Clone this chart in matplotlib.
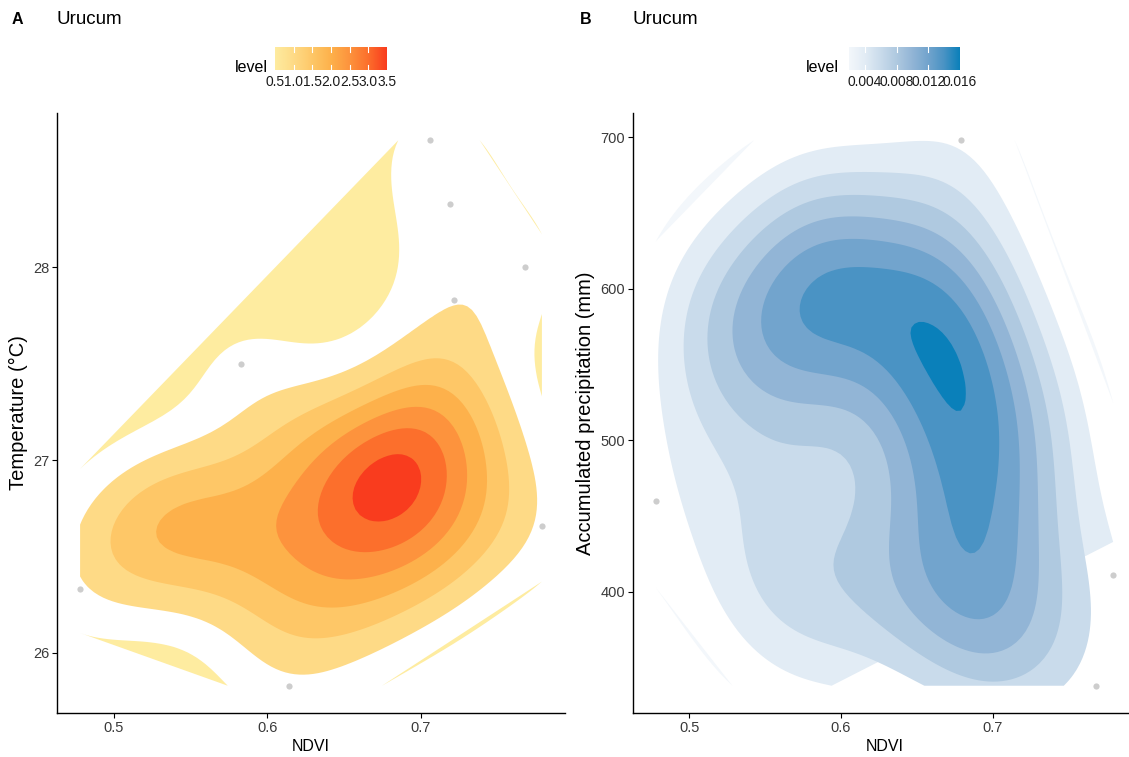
import numpy as np
import matplotlib
matplotlib.use("Agg")
import matplotlib.pyplot as plt
from matplotlib.colors import LinearSegmentedColormap
import contourpy

plt.rcParams['font.family'] = ['Liberation Sans', 'DejaVu Sans']

# Panel A: NDVI vs temperature (first 8 points, the rest estimated
# from the filled density contours that hide them)
ndvi_a = [0.706, 0.719, 0.768, 0.722, 0.583, 0.779, 0.478, 0.614,
          0.495, 0.520, 0.535, 0.545, 0.555, 0.575,
          0.600, 0.610, 0.630, 0.640, 0.650, 0.660, 0.660,
          0.676, 0.683, 0.695, 0.686, 0.678,
          0.705, 0.720, 0.710, 0.745, 0.730, 0.715,
          0.660, 0.600, 0.700, 0.620]
temp_a = [28.66, 28.33, 28.00, 27.83, 27.50, 26.66, 26.33, 25.83,
          26.58, 26.72, 26.62, 26.50, 26.83, 26.67,
          26.50, 26.83, 26.67, 26.33, 27.00, 26.50, 26.72,
          26.86, 26.95, 27.05, 26.82, 26.98,
          27.20, 27.25, 27.45, 27.00, 26.70, 26.55,
          26.17, 26.17, 26.40, 27.17]

# Panel B: NDVI vs accumulated precipitation
ndvi_b = [0.679, 0.478, 0.7795, 0.768,
          0.555, 0.575, 0.600, 0.590, 0.630, 0.655, 0.640, 0.660, 0.668, 0.675, 0.685, 0.690,
          0.690, 0.700, 0.695, 0.660, 0.705, 0.695, 0.710, 0.680,
          0.540, 0.590, 0.640,
          0.515, 0.590, 0.735, 0.540, 0.585, 0.650, 0.725, 0.560,
          0.560, 0.610, 0.512]
prec_b = [698, 460, 411, 338,
          600, 615, 590, 585, 600, 565, 620, 590, 556, 545, 530, 600,
          520, 365, 455, 400, 410, 385, 480, 470,
          560, 560, 460,
          585, 640, 510, 410, 375, 385, 360, 500,
          420, 410, 555]

levels_a = [0.5, 1.0, 1.5, 2.0, 2.5, 3.0, 3.5]
levels_b = [0.002, 0.004, 0.006, 0.008, 0.010, 0.012, 0.014, 0.016]
cols_a = ["#FEECA0", "#FEDA86", "#FEC767", "#FDB14B", "#FD933D", "#FC6F2C", "#F93C1E"]
cols_b = ["#F3F7FB", "#E2ECF5", "#C9DBEB", "#AFC9E0", "#92B5D6", "#72A4CD", "#4A93C4", "#0A80BA"]

# kde bandwidths (as in MASS::kde2d, sd = h/4)
h_a = (0.144, 1.20)
h_b = (0.152, 220.0)


def kde2d(x, y, h, n=100):
    gx = np.linspace(x.min(), x.max(), n)
    gy = np.linspace(y.min(), y.max(), n)
    sx, sy = h[0] / 4, h[1] / 4
    ux = (gx[:, None] - x[None, :]) / sx
    uy = (gy[:, None] - y[None, :]) / sy
    kx = np.exp(-0.5 * ux ** 2) / np.sqrt(2 * np.pi)
    ky = np.exp(-0.5 * uy ** 2) / np.sqrt(2 * np.pi)
    z = ky @ kx.T / (len(x) * sx * sy)   # rows = y, cols = x
    return gx, gy, z


def panel(ax, x, y, h, levels, cols, ylabel, yticks):
    x = np.asarray(x, float)
    y = np.asarray(y, float)
    ax.scatter(x, y, s=20, color="#CDCDCD", lw=0, zorder=1)
    gx, gy, z = kde2d(x, y, h)
    gen = contourpy.contour_generator(gx, gy, z)
    # each contour piece is filled as its own polygon, lowest level first
    for lev, col in zip(levels, cols):
        for line in gen.lines(lev):
            ax.fill(line[:, 0], line[:, 1], color=col, lw=0, zorder=2)
    dx = 0.05 * (x.max() - x.min())
    dy = 0.05 * (y.max() - y.min())
    ax.set_xlim(x.min() - dx, x.max() + dx)
    ax.set_ylim(y.min() - dy, y.max() + dy)
    for s in ["top", "right"]:
        ax.spines[s].set_visible(False)
    for s in ["left", "bottom"]:
        ax.spines[s].set_linewidth(1.0)
    ax.set_xticks([0.5, 0.6, 0.7])
    ax.set_yticks(yticks)
    ax.tick_params(length=3.5, width=0.8, labelsize=10.5, labelcolor="#3A3A3A", pad=2)
    ax.set_xlabel("NDVI", fontsize=11.5, labelpad=3)
    ax.set_ylabel(ylabel, fontsize=14.5, labelpad=4)


def colorbar(fig, rect, levels, cols, labels, title_x):
    cax = fig.add_axes(rect)
    cmap = LinearSegmentedColormap.from_list("lev", cols)
    grad = np.linspace(0, 1, 256)[None, :]
    lo, hi = levels[0], levels[-1]
    cax.imshow(grad, aspect="auto", cmap=cmap, extent=[lo, hi, 0, 1])
    cax.set_xlim(lo, hi)
    cax.set_ylim(0, 1)
    cax.axis("off")
    for t, lab in labels:
        if lo < t < hi:
            cax.plot([t, t], [0, 0.2], color="white", lw=0.8)
            cax.plot([t, t], [0.8, 1], color="white", lw=0.8)
        cax.text(t, -0.22, lab, ha="center", va="top", fontsize=9.9, color="#1A1A1A")
    fig.text(title_x, 1 - 68 / 757, "level", ha="right", va="center", fontsize=11.5)


fig = plt.figure(figsize=(11.29, 7.57), dpi=100)
W, H = 1129, 757

ax1 = fig.add_axes([57 / W, 1 - 713 / H, (565 - 57) / W, (713 - 113) / H])
panel(ax1, ndvi_a, temp_a, h_a, levels_a, cols_a, "Temperature (°C)", [26, 27, 28])

ax2 = fig.add_axes([633 / W, 1 - 713 / H, (1136 - 633) / W, (713 - 113) / H])
panel(ax2, ndvi_b, prec_b, h_b, levels_b, cols_b, "Accumulated precipitation (mm)", [400, 500, 600, 700])

fig.text(12 / W, 1 - 20 / H, "A", fontsize=11.5, fontweight="bold", va="center")
fig.text(57 / W, 1 - 20 / H, "Urucum", fontsize=13.5, va="center")
fig.text(580 / W, 1 - 20 / H, "B", fontsize=11.5, fontweight="bold", va="center")
fig.text(633 / W, 1 - 20 / H, "Urucum", fontsize=13.5, va="center")

colorbar(fig, [275 / W, 1 - 70 / H, 112 / W, 23 / H], levels_a, cols_a,
         [(v, f"{v:.1f}") for v in levels_a], 268 / W)
colorbar(fig, [849 / W, 1 - 70 / H, 111 / W, 23 / H], levels_b, cols_b,
         [(v, f"{v:.3f}") for v in [0.004, 0.008, 0.012, 0.016]], 839 / W)

fig.savefig("out.png", dpi=100)
